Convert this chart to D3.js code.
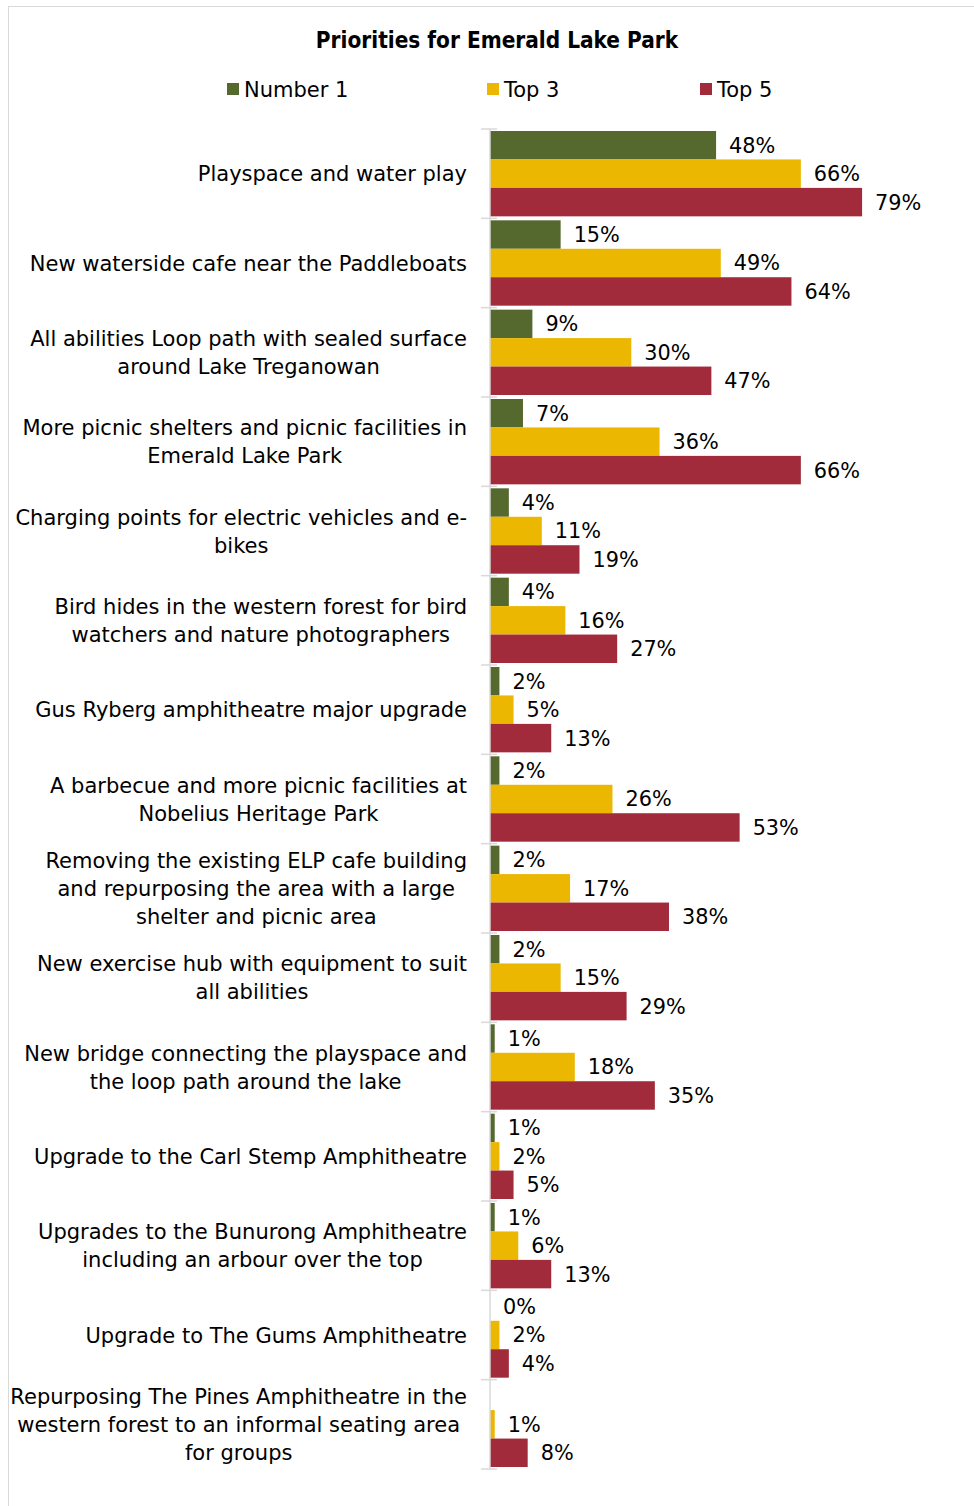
<!DOCTYPE html>
<html>
<head>
<meta charset="utf-8">
<script src="https://cdn.jsdelivr.net/npm/d3@7"></script>
<style>
  body { margin: 0; background: #fff; }
  svg { display: block; }
  .lbl { font-family: "DejaVu Sans", "Open Sans", sans-serif; font-size: 21px; fill: #000; }
  .val { font-family: "DejaVu Sans", "Open Sans", sans-serif; font-size: 20.8px; fill: #000; }
  .title { font-family: "DejaVu Sans Condensed", "DejaVu Sans", sans-serif; font-stretch: condensed; font-weight: bold; font-size: 22.4px; }
</style>
</head>
<body>
<div id="chart"></div>
<script>
// chart data
var categories = [
  ["Playspace and water play"],
  ["New waterside cafe near the Paddleboats"],
  ["All abilities Loop path with sealed surface", "around Lake Treganowan"],
  ["More picnic shelters and picnic facilities in", "Emerald Lake Park"],
  ["Charging points for electric vehicles and e-", "bikes"],
  ["Bird hides in the western forest for bird", "watchers and nature photographers"],
  ["Gus Ryberg amphitheatre major upgrade"],
  ["A barbecue and more picnic facilities at", "Nobelius Heritage Park"],
  ["Removing the existing ELP cafe building", "and repurposing the area with a large", "shelter and picnic area"],
  ["New exercise hub with equipment to suit", "all abilities"],
  ["New bridge connecting the playspace and", "the loop path around the lake"],
  ["Upgrade to the Carl Stemp Amphitheatre"],
  ["Upgrades to the Bunurong Amphitheatre", "including an arbour over the top"],
  ["Upgrade to The Gums Amphitheatre"],
  ["Repurposing The Pines Amphitheatre in the", "western forest to an informal seating area", "for groups"]
];
var number1 = [48, 15, 9, 7, 4, 4, 2, 2, 2, 2, 1, 1, 1, 0, null];
var top3    = [66, 49, 30, 36, 11, 16, 5, 26, 17, 15, 18, 2, 6, 2, 1];
var top5    = [79, 64, 47, 66, 19, 27, 13, 53, 38, 29, 35, 5, 13, 4, 8];
var seriesNames = ["Number 1", "Top 3", "Top 5"];
var colors = ["#55692e", "#ebb700", "#a12b3a"];

var W = 974, H = 1506;
var svg = d3.select("#chart").append("svg").attr("width", W).attr("height", H);

// outer frame
svg.append("rect")
  .attr("x", 8.5).attr("y", 6.5)
  .attr("width", W).attr("height", H - 4)
  .attr("fill", "none").attr("stroke", "#d9d9d9");

// title
svg.append("text")
  .attr("class", "title")
  .attr("x", 497).attr("y", 48)
  .attr("text-anchor", "middle")
  .text("Priorities for Emerald Lake Park");

// legend
var legendX = [227, 487, 700];
seriesNames.forEach(function (name, i) {
  svg.append("rect")
    .attr("x", legendX[i]).attr("y", 83)
    .attr("width", 12).attr("height", 12)
    .attr("fill", colors[i]);
  svg.append("text")
    .attr("class", "lbl")
    .attr("x", legendX[i] + 17).attr("y", 97)
    .text(name);
});

// scales
var x = d3.scaleLinear().domain([0, 100]).range([490, 961]);
var y = d3.scaleBand().domain(d3.range(categories.length)).range([129, 1469]).paddingInner(0).paddingOuter(0);
var sub = d3.scaleBand().domain([0, 1, 2]).range([0, y.bandwidth()]).paddingOuter(0.07).paddingInner(0);

var series = [number1, top3, top5];

var g = svg.append("g");

series.forEach(function (vals, s) {
  var rows = vals.map(function (v, i) { return { v: v, i: i }; })
    .filter(function (d) { return d.v !== null; });
  var gs = g.append("g");
  gs.selectAll("rect")
    .data(rows)
    .enter().append("rect")
    .attr("x", x(0))
    .attr("y", function (d) { return y(d.i) + sub(s); })
    .attr("width", function (d) { return x(d.v) - x(0); })
    .attr("height", sub.bandwidth())
    .attr("fill", colors[s]);
  gs.selectAll("text")
    .data(rows)
    .enter().append("text")
    .attr("class", "val")
    .attr("x", function (d) { return x(d.v) + 13; })
    .attr("y", function (d) { return y(d.i) + sub(s) + sub.bandwidth() / 2; })
    .attr("dy", "0.36em")
    .text(function (d) { return d.v + "%"; });
});

// category axis line and tick marks
svg.append("line")
  .attr("x1", 490).attr("x2", 490)
  .attr("y1", y.range()[0]).attr("y2", y.range()[1])
  .attr("stroke", "#d9d9d9").attr("stroke-width", 1.5);
var ticks = d3.range(categories.length + 1).map(function (i) {
  return i < categories.length ? y(i) : y.range()[1];
});
svg.selectAll(".tick").data(ticks).enter().append("line")
  .attr("x1", 481).attr("x2", 497)
  .attr("y1", function (d) { return d; }).attr("y2", function (d) { return d; })
  .attr("stroke", "#d9d9d9").attr("stroke-width", 1.5);

// category labels
var lineH = 28;
categories.forEach(function (lines, i) {
  var cy = y(i) + y.bandwidth() / 2;
  var t = svg.append("text")
    .attr("class", "lbl")
    .attr("text-anchor", "middle");
  var w = 0;
  var top = cy - (lines.length - 1) * lineH / 2;
  lines.forEach(function (ln, k) {
    t.append("tspan").attr("y", top + k * lineH).attr("dy", "0.36em").text(ln);
  });
  // right-align the block, centre each line within it
  t.selectAll("tspan").each(function () { w = Math.max(w, this.getComputedTextLength()); });
  t.selectAll("tspan").attr("x", 467 - w / 2);
});
</script>
</body>
</html>
